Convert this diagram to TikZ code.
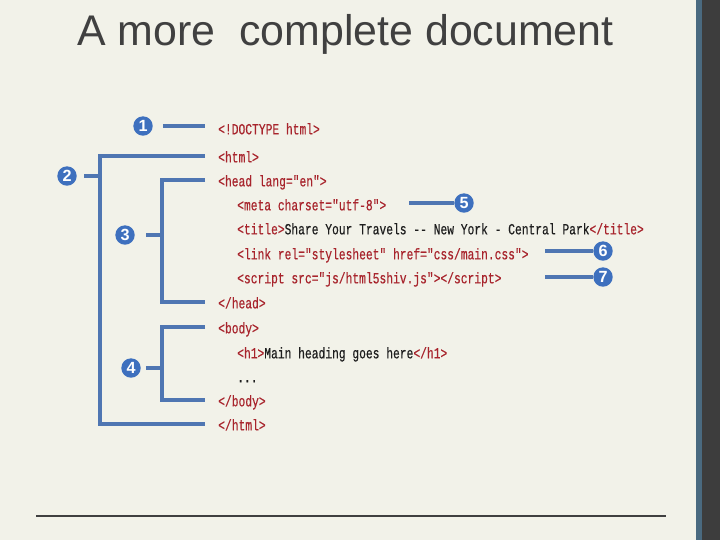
\documentclass[tikz,border=0pt]{standalone}
\usepackage{fontspec}
\setmainfont{Liberation Sans}
\newfontfamily\codefont[FakeStretch=0.73,FakeBold=0.4,Ligatures=TeXOff]{Liberation Mono}
\usepackage{tikz}
\usetikzlibrary{calc}
\definecolor{pagecream}{RGB}{242,242,233}
\definecolor{titlegray}{RGB}{64,64,64}
\definecolor{tagred}{RGB}{168,36,44}
\definecolor{codeblack}{RGB}{30,30,30}
\definecolor{markblue}{RGB}{62,112,190}
\definecolor{wireblue}{RGB}{79,118,178}
\definecolor{slatebar}{RGB}{74,106,128}
\definecolor{darkbar}{RGB}{61,61,61}
\newcommand{\plain}[1]{\textcolor{codeblack}{#1}}

\begin{document}
\begin{tikzpicture}[x=0.025cm,y=-0.025cm,
    codeline/.style={anchor=west,inner xsep=9.2pt,inner ysep=0pt,
      text height=11.5pt,text depth=2.5pt,text=tagred,
      font=\codefont\fontsize{11}{13}\selectfont},
    badge/.style={circle,fill=markblue,text=white,inner sep=0pt,
      minimum size=13.8pt,font=\bfseries\fontsize{11.5}{12}\selectfont},
    wire/.style={wireblue,line width=2.2pt}]
  \fill[pagecream] (0,0) rectangle (720,540);
  \fill[slatebar] (696,0) rectangle (702,540);
  \fill[darkbar] (702,0) rectangle (720,540);
  \node[anchor=base west,inner sep=0pt,text=titlegray,
    font=\fontsize{30.5}{36}\selectfont] (title) at (77,45) {A more\ \ complete document};
  \draw[titlegray,line width=1pt] (36,516) -- (666,516);
  % the listing, one node per line
  \foreach \n/\x/\y/\txt in {
      1/205/128/{<!DOCTYPE html>},
      2/205/156/{<html>},
      3/205/180/{<head lang="en">},
      4/224/204/{<meta charset="utf-8">},
      5/224/228/{<title>\plain{Share Your Travels -- New York - Central Park}</title>},
      6/224/253/{<link rel="stylesheet" href="css/main.css">},
      7/224/277/{<script src="js/html5shiv.js"></script>},
      8/205/302/{</head>},
      9/205/327/{<body>},
      10/224/352/{<h1>\plain{Main heading goes here}</h1>},
      11/224/376/{\plain{...}},
      12/205/400/{</body>},
      13/205/424/{</html>}}
    \node[codeline] (l\n) at (\x,\y) {\txt};
  \node[badge] (c1) at (143,126) {1};
  \node[badge] (c2) at (67,176) {2};
  \node[badge] (c3) at (125,235) {3};
  \node[badge] (c4) at (131,368) {4};
  \node[badge] (c5) at (464,203) {5};
  \node[badge] (c6) at (603,251) {6};
  \node[badge] (c7) at (603,277) {7};
  \coordinate (s2) at (100,0);
  \coordinate (s3) at (162,0);
  \coordinate (tail) at (545,0);
  \draw[wire,shorten <=7pt] (c1) -- (c1 -| l1.west);
  \draw[wire,shorten <=5pt] (c2) -- (c2 -| s2);
  \draw[wire] (l2.west) -| (s2 |- l13) -- (l13.west);
  \draw[wire,shorten <=8pt] (c3) -- (c3 -| s3);
  \draw[wire] (l3.west) -| (s3 |- l8) -- (l8.west);
  \draw[wire,shorten <=3.5pt] (c4) -- (c4 -| s3);
  \draw[wire] (l9.west) -| (s3 |- l12) -- (l12.west);
  \draw[wire,shorten >=7pt] (c5) -- (c5 -| l4.east);
  \draw[wire] (c6) -- (c6 -| tail);
  \draw[wire] (c7) -- (c7 -| tail);
\end{tikzpicture}
\end{document}
